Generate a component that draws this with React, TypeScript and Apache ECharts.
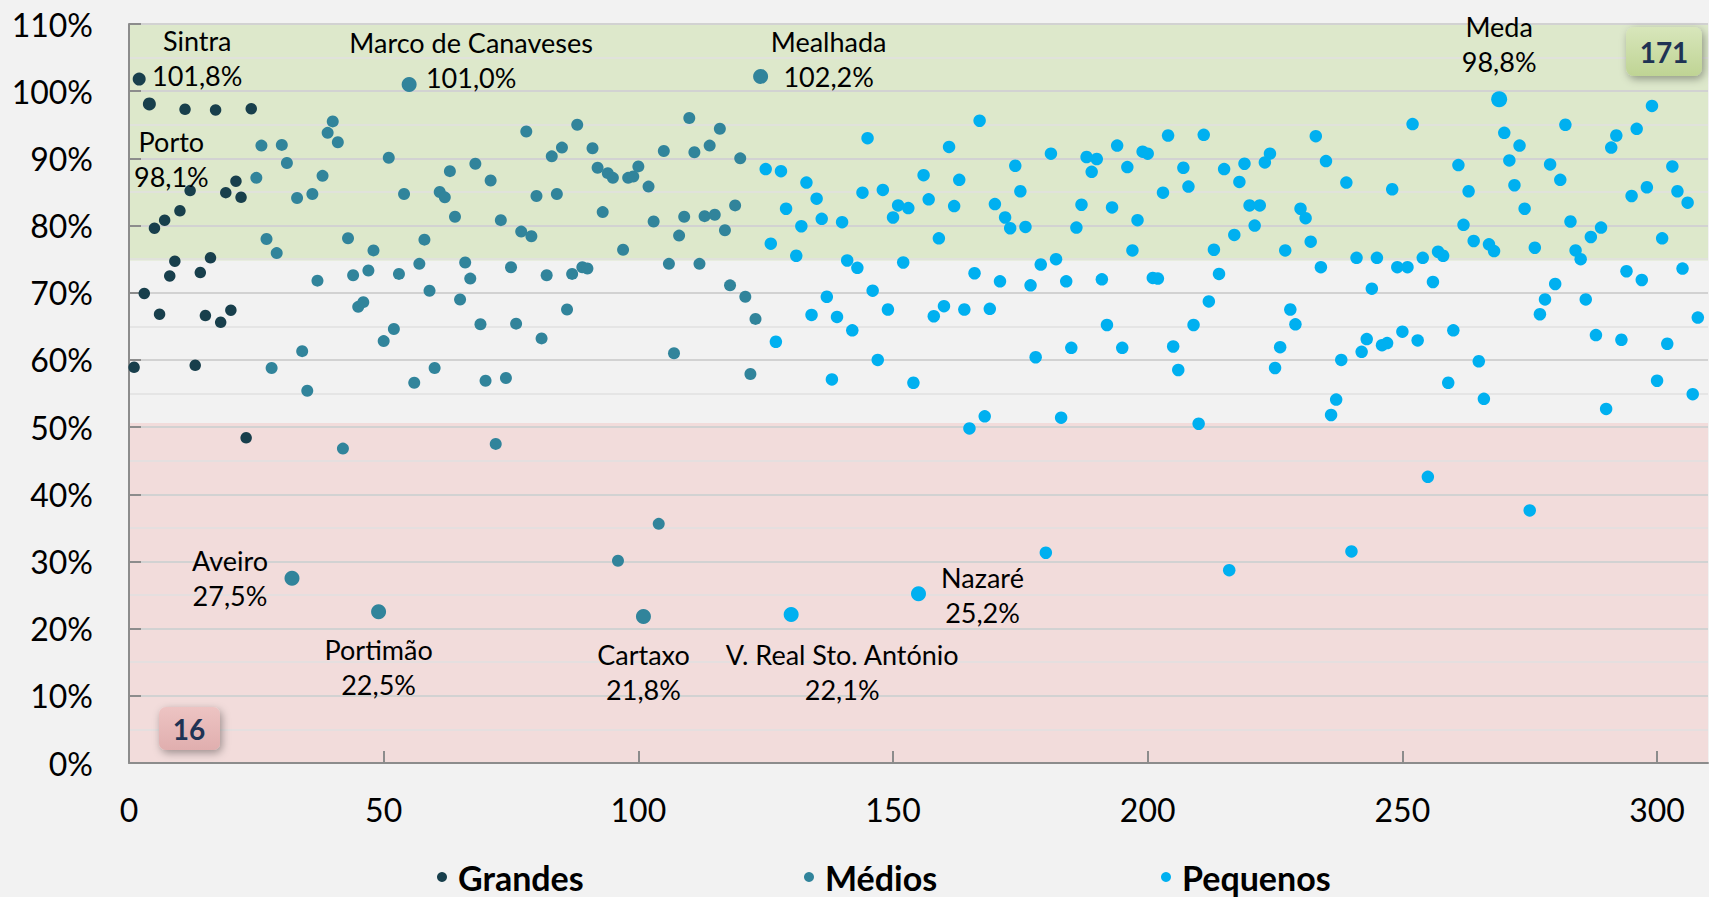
import React, { useEffect, useRef } from "react";
import * as echarts from "echarts";

// ---- data (x = rank of the municipality, y = percentage) ----
const seriesNames = ["Grandes", "Médios", "Pequenos"];
const seriesStart = [1, 25, 125];

const grandes = [58.9, 101.8, 69.9, 98.1, 79.6, 66.8, 80.8, 72.5, 74.7, 82.2, 97.3, 85.2, 59.2, 73.0, 66.6, 75.2, 97.2, 65.6, 84.9, 67.4, 86.6, 84.2, 48.4, 97.4];

const medios = [
  87.1, 91.9, 78.0, 58.8, 75.9, 92.0, 89.3, 27.5, 84.1, 61.3,
  55.4, 84.7, 71.8, 87.4, 93.8, 95.5, 92.4, 46.8, 78.1, 72.6,
  67.9, 68.6, 73.3, 76.3, 22.5, 62.8, 90.1, 64.6, 72.8, 84.7,
  101.0, 56.6, 74.3, 77.9, 70.3, 58.8, 85.0, 84.2, 88.1, 81.3,
  69.0, 74.5, 72.1, 89.2, 65.3, 56.9, 86.7, 47.5, 80.8, 57.3,
  73.8, 65.4, 79.1, 94.0, 78.4, 84.4, 63.2, 72.6, 90.3, 84.7,
  91.6, 67.5, 72.8, 95.0, 73.8, 73.6, 91.5, 88.6, 82.0, 87.8,
  87.1, 30.1, 76.4, 87.1, 87.3, 88.8, 21.8, 85.8, 80.6, 35.6,
  91.1, 74.3, 61.0, 78.5, 81.3, 96.0, 90.9, 74.3, 81.4, 91.9,
  81.6, 94.4, 79.3, 71.1, 83.0, 90.0, 69.4, 57.9, 66.1, 102.2,
];

const pequenos = [
  88.4, 77.3, 62.7, 88.1, 82.5, 22.1, 75.5, 79.9, 86.4, 66.7,
  84.0, 81.0, 69.4, 57.1, 66.4, 80.5, 74.8, 64.4, 73.7, 84.9,
  93.0, 70.3, 60.0, 85.3, 67.5, 81.2, 83.0, 74.5, 82.6, 56.6,
  25.2, 87.5, 83.9, 66.5, 78.1, 68.0, 91.7, 82.9, 86.8, 67.5,
  49.8, 72.9, 95.6, 51.6, 67.6, 83.2, 71.7, 81.2, 79.6, 88.9,
  85.1, 79.8, 71.1, 60.4, 74.2, 31.3, 90.7, 75.0, 51.4, 71.7,
  61.8, 79.7, 83.1, 90.2, 88.0, 89.9, 72.0, 65.2, 82.7, 91.9,
  61.8, 88.7, 76.3, 80.8, 91.0, 90.7, 72.2, 72.1, 84.9, 93.4,
  62.0, 58.5, 88.6, 85.8, 65.2, 50.5, 93.5, 68.7, 76.4, 72.8,
  88.4, 28.7, 78.6, 86.5, 89.2, 83.0, 80.0, 83.0, 89.4, 90.7,
  58.8, 61.9, 76.3, 67.5, 65.3, 82.5, 81.1, 77.6, 93.3, 73.8,
  89.6, 51.8, 54.1, 60.0, 86.4, 31.5, 75.2, 61.2, 63.1, 70.6,
  75.2, 62.2, 62.5, 85.4, 73.8, 64.2, 73.8, 95.1, 62.9, 75.2,
  42.6, 71.6, 76.1, 75.5, 56.6, 64.4, 89.0, 80.1, 85.1, 77.7,
  59.8, 54.2, 77.2, 76.2, 98.8, 93.8, 89.7, 86.0, 91.9, 82.5,
  37.6, 76.7, 66.8, 69.0, 89.1, 71.3, 86.8, 95.0, 80.6, 76.3,
  75.0, 69.0, 78.3, 63.7, 79.7, 52.7, 91.6, 93.4, 63.0, 73.2,
  84.4, 94.4, 71.9, 85.7, 97.8, 56.9, 78.1, 62.4, 88.8, 85.1,
  73.6, 83.4, 54.9, 66.3,
];

// named municipalities (rank -> name)
const labelNames: Record<number, string> = {
  2: "Sintra",
  4: "Porto",
  32: "Aveiro",
  49: "Portimão",
  55: "Marco de Canaveses",
  101: "Cartaxo",
  124: "Mealhada",
  130: "V. Real Sto. António",
  155: "Nazaré",
  269: "Meda",
};

const xTicks = [0, 50, 100, 150, 200, 250, 300];
const bandBad = [0, 50.6];
const bandGood = [74.8, 110];
const countGood = "171";
const countBad = "16";

// ---- styles ----
const FONT = "Lato, 'Open Sans', sans-serif";
const colors = ["#183f4c", "#31849b", "#00b0f0"];
const baseSizes = [11.5, 12, 12.5];
const labelStyle: Record<number, { offset: number[]; size: number }> = {
  2: { offset: [58, -21], size: 13 },
  4: { offset: [22, 55], size: 13 },
  32: { offset: [-62, 0], size: 15 },
  49: { offset: [0, 55], size: 15 },
  55: { offset: [62, -24], size: 15 },
  101: { offset: [0, 55], size: 15 },
  124: { offset: [68, -17], size: 15 },
  130: { offset: [51, 57], size: 15 },
  155: { offset: [64, 1], size: 15 },
  269: { offset: [0, -55], size: 16 },
};

const fmt = (v: number) => v.toFixed(1).replace(".", ",") + "%";

function buildData(values: number[], start: number) {
  return values.map((v, i) => {
    const x = start + i;
    const name = labelNames[x];
    if (!name) return [x, v];
    const st = labelStyle[x];
    return {
      value: [x, v],
      symbolSize: st.size,
      label: {
        show: true,
        position: "inside",
        align: "center",
        verticalAlign: "middle",
        offset: st.offset,
        formatter: name + "\n" + fmt(v),
        color: "#000",
        fontSize: 27,
        lineHeight: 35,
        fontFamily: FONT,
      },
    };
  });
}

export default function App() {
  const ref = useRef<HTMLDivElement>(null);

  useEffect(() => {
    if (!ref.current) return;
    const chart = echarts.init(ref.current, null, { renderer: "svg" });
    const allValues = [grandes, medios, pequenos];
    const legendLeft = [437, 804, 1161];

    const series: any[] = allValues.map((vals, k) => ({
      name: seriesNames[k],
      type: "scatter",
      z: 3,
      symbol: "circle",
      symbolSize: baseSizes[k],
      itemStyle: { color: colors[k], opacity: 1 },
      data: buildData(vals, seriesStart[k]),
      emphasis: { disabled: true },
      ...(k === 0
        ? {
            markArea: {
              silent: true,
              z: 1,
              itemStyle: { borderWidth: 0 },
              label: { show: false },
              data: [
                [{ yAxis: bandBad[0], itemStyle: { color: "#f2dcdb" } }, { yAxis: bandBad[1] }],
                [{ yAxis: bandGood[0], itemStyle: { color: "#dde8cb" } }, { yAxis: bandGood[1] }],
              ],
            },
          }
        : {}),
    }));

    const option: any = {
      animation: false,
      backgroundColor: "#f2f2f2",
      textStyle: { fontFamily: FONT },
      grid: { left: 129, top: 24, right: 1, bottom: 134, containLabel: false },
      legend: seriesNames.map((n, k) => ({
        data: [n],
        left: legendLeft[k],
        top: 860,
        padding: 0,
        icon: "circle",
        itemWidth: 10,
        itemHeight: 10,
        selectedMode: false,
        textStyle: {
          fontSize: 34,
          lineHeight: 34,
          fontWeight: "bold",
          color: "#000",
          fontFamily: FONT,
          padding: [0, 0, 0, 6],
        },
      })),
      xAxis: {
        type: "value",
        min: 0,
        max: 310,
        interval: 50,
        z: 2,
        axisLine: { show: true, lineStyle: { color: "#8c8c8c", width: 2 } },
        axisTick: {
          show: true,
          inside: true,
          length: 12,
          customValues: xTicks,
          lineStyle: { color: "#8c8c8c", width: 2 },
        },
        axisLabel: {
          color: "#000",
          fontSize: 32,
          margin: 30,
          fontFamily: FONT,
          customValues: xTicks,
        },
        splitLine: { show: false },
      },
      yAxis: {
        type: "value",
        min: 0,
        max: 110,
        interval: 10,
        z: 2,
        axisLine: { show: true, lineStyle: { color: "#8c8c8c", width: 2 } },
        axisTick: { show: true, inside: true, length: 12, lineStyle: { color: "#8c8c8c", width: 2 } },
        axisLabel: { color: "#000", fontSize: 32, margin: 36, fontFamily: FONT, formatter: "{value}%" },
        splitLine: { show: true, lineStyle: { color: "#d2d2d2", width: 2 } },
        minorTick: { show: false, splitNumber: 2 },
        minorSplitLine: { show: true, lineStyle: { color: "#e0e0e0", width: 1.5 } },
      },
      graphic: [
        {
          type: "rect",
          left: 1626,
          top: 27,
          z: 100,
          shape: { width: 76, height: 49, r: 8 },
          style: {
            fill: new echarts.graphic.LinearGradient(0, 0, 0, 1, [
              { offset: 0, color: "#d8e6bb" },
              { offset: 1, color: "#bfd494" },
            ]),
            shadowBlur: 8,
            shadowColor: "rgba(0,0,0,0.35)",
            shadowOffsetX: 2,
            shadowOffsetY: 3,
          },
        },
        {
          type: "text",
          x: 1664,
          y: 52,
          z: 101,
          style: {
            text: countGood,
            align: "center",
            verticalAlign: "middle",
            fill: "#1f3354",
            font: "bold 28px " + FONT,
          },
        },
        {
          type: "rect",
          left: 159,
          top: 707,
          z: 100,
          shape: { width: 61, height: 43, r: 7 },
          style: {
            fill: new echarts.graphic.LinearGradient(0, 0, 0, 1, [
              { offset: 0, color: "#edc4c3" },
              { offset: 1, color: "#e0aeae" },
            ]),
            shadowBlur: 8,
            shadowColor: "rgba(0,0,0,0.35)",
            shadowOffsetX: 2,
            shadowOffsetY: 3,
          },
        },
        {
          type: "text",
          x: 189,
          y: 729,
          z: 101,
          style: {
            text: countBad,
            align: "center",
            verticalAlign: "middle",
            fill: "#1f3354",
            font: "bold 28px " + FONT,
          },
        },
      ],
      series,
    };

    chart.setOption(option);
    return () => chart.dispose();
  }, []);

  return (
    <div
      ref={ref}
      style={{ position: "fixed", left: 0, top: 0, width: 1709, height: 897 }}
    />
  );
}
